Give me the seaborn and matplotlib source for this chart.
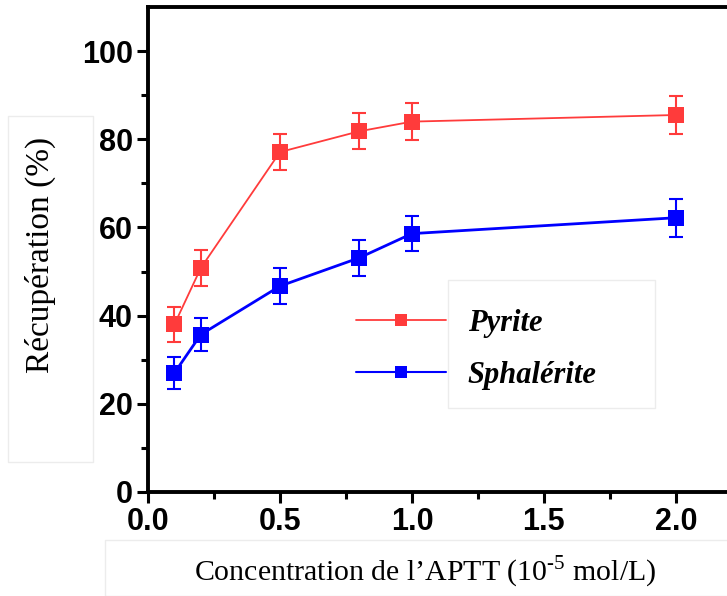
import numpy as np
import pandas as pd
import seaborn as sns
import matplotlib.pyplot as plt
from matplotlib.patches import Rectangle
from matplotlib.lines import Line2D

# valeurs
conc = [0.1, 0.2, 0.5, 0.8, 1.0, 2.0]
pyrite = [38.0, 50.8, 77.1, 81.8, 84.0, 85.5]
pyrite_err = [4.0, 4.1, 4.1, 4.1, 4.2, 4.3]
sphalerite = [27.0, 35.7, 46.7, 53.1, 58.6, 62.2]
sphalerite_err = [3.7, 3.8, 4.0, 4.0, 4.0, 4.3]
series = ["Pyrite", "Sphalérite"]

sns.set_style("ticks")
plt.rcParams['font.family'] = ['Liberation Sans', 'DejaVu Sans']
plt.rcParams['text.color'] = 'black'
plt.rcParams['mathtext.fontset'] = 'custom'
plt.rcParams['mathtext.rm'] = 'Liberation Serif'

df = pd.DataFrame({
    "conc": conc * 2,
    "rec": pyrite + sphalerite,
    "serie": [series[0]] * len(conc) + [series[1]] * len(conc),
})

red = "#ff3b3b"
blue = "#0000ff"

fig = plt.figure(figsize=(7.27, 5.96), dpi=100)
ax = fig.add_axes([0.2036, 0.1745, 0.835, 0.8138])

sns.lineplot(data=df, x="conc", y="rec", hue="serie", palette=[red, blue],
             marker="s", markersize=11, markeredgewidth=0, ax=ax, legend=False)
for line, lw in zip(ax.lines, [1.3, 2.0]):
    line.set_linewidth(lw)

ax.errorbar(conc, pyrite, yerr=pyrite_err, fmt="none", ecolor=red,
            elinewidth=1.5, capsize=5, capthick=1.5)
ax.errorbar(conc, sphalerite, yerr=sphalerite_err, fmt="none", ecolor=blue,
            elinewidth=1.5, capsize=5, capthick=1.5)

ax.set_xlim(0, 2.3)
ax.set_ylim(0, 110)
ax.set_xticks([0.0, 0.5, 1.0, 1.5, 2.0])
ax.set_xticks(np.arange(0.25, 2.3, 0.5), minor=True)
ax.set_yticks([0, 20, 40, 60, 80, 100])
ax.set_yticks(np.arange(10, 110, 20), minor=True)
ax.tick_params(which="major", direction="out", length=8, width=2.2,
               labelsize=22, pad=3, colors="black")
ax.tick_params(which="minor", direction="out", length=5, width=2.2,
               colors="black")
for lab in ax.get_xticklabels() + ax.get_yticklabels():
    lab.set_fontweight("bold")
for s in ["left", "bottom", "top", "right"]:
    ax.spines[s].set_linewidth(2.8)
    ax.spines[s].set_color("black")
ax.set_xlabel("")
ax.set_ylabel("")

# légende
handles = [
    Line2D([], [], color=red, lw=1.3, marker="s", markersize=9, markeredgewidth=0),
    Line2D([], [], color=blue, lw=1.5, marker="s", markersize=9, markeredgewidth=0),
]
ax.legend(handles, series, loc="upper left",
          bbox_to_anchor=(356 / 727, 1 - 309 / 596),
          bbox_transform=fig.transFigure, borderaxespad=0, borderpad=0,
          frameon=False, handlelength=2.95, handletextpad=0.7,
          labelspacing=0.75, labelcolor="black",
          prop={"family": "Liberation Serif", "style": "italic",
                "weight": "bold", "size": 22})

# cadres clairs autour des titres
fig.patches.append(Rectangle((448 / 727, 1 - 408 / 596), 207 / 727, 128 / 596,
                             transform=fig.transFigure, fill=False,
                             edgecolor="#ececec", lw=1))
fig.patches.append(Rectangle((8 / 727, 1 - 462 / 596), 85 / 727, 346 / 596,
                             transform=fig.transFigure, fill=False,
                             edgecolor="#ececec", lw=1))
fig.patches.append(Rectangle((105 / 727, 0.0), 640 / 727, 56 / 596,
                             transform=fig.transFigure, fill=False,
                             edgecolor="#ececec", lw=1))

fig.text(40 / 727, 1 - 255 / 596, "Récupération (%)", rotation=90,
         ha="center", va="center", family="Liberation Serif", fontsize=24)
fig.text(425 / 727, 1 - 572 / 596,
         "Concentration de l’APTT (10$^{\u20105}$ mol/L)",
         ha="center", va="center", family="Liberation Serif", fontsize=21.5)

fig.savefig("out.png", dpi=100)
